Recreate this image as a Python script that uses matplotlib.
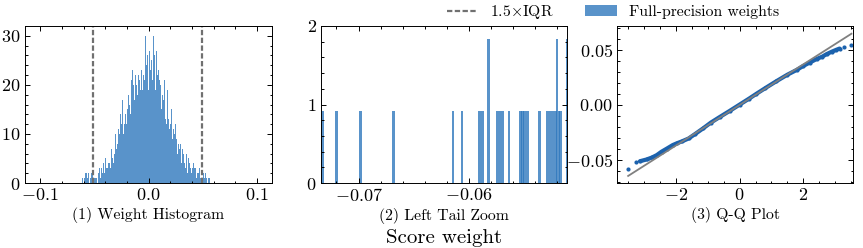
import numpy as np
import matplotlib
matplotlib.use('Agg')
import matplotlib.pyplot as plt
from matplotlib.patches import Patch
from matplotlib.lines import Line2D
from matplotlib.ticker import AutoMinorLocator

plt.rcParams.update({
    'font.family': 'serif',
    'font.serif': ['cmr10'],
    'mathtext.fontset': 'cm',
    'axes.formatter.use_mathtext': True,
    'axes.unicode_minus': True,
    'axes.linewidth': 0.7,
})

# (1) histogram of the weights: bins start at hist_start, each hist_width wide
hist_start = -0.0735
hist_width = 0.0005
hist_counts = [
    1, 0, 0, 1, 0, 0, 0, 1, 0, 0, 0, 0, 0, 1, 0, 0, 0, 0, 0, 0,
    0, 0, 0, 0, 1, 1, 0, 0, 1, 1, 2, 0, 2, 2, 1, 0, 2, 2, 0, 1,
    0, 2, 4, 2,
    1, 0, 2, 1, 0, 1, 1, 2, 0, 1,
    2, 1, 3, 2, 1, 2, 3, 1, 2, 4,
    3, 2, 4, 5, 2, 3, 4, 3, 5, 4,
    4, 6, 3, 5, 7, 4, 5, 6, 4, 7,
    6, 8, 10, 7, 13, 8, 9, 11, 7, 10,
    11, 14, 9, 12, 17, 13, 10, 15, 12, 16,
    14, 17, 12, 20, 15, 13, 18, 16, 19, 14,
    17, 21, 15, 23, 18, 20, 24, 17, 22, 19,
    20, 25, 18, 27, 22, 30, 21, 24, 19, 26,
    23, 19, 26, 22, 29, 21, 25, 30, 20, 24,
    22, 26, 19, 24, 27, 21, 23, 18, 25, 22,
    21, 24, 30, 20, 26, 19, 23, 27, 18, 22,
    19, 23, 16, 21, 17, 20, 15, 22, 18, 16,
    17, 14, 21, 15, 13, 18, 12, 16, 19, 13,
    14, 11, 16, 12, 10, 15, 13, 9, 17, 11,
    10, 8, 12, 7, 9, 11, 6, 10, 8, 9,
    7, 5, 8, 4, 6, 7, 3, 6, 5, 4,
    5, 3, 4, 6, 2, 4, 5, 3, 4, 3,
    3, 5, 2, 4, 3, 2, 4, 3, 2, 3,
    2, 1, 3, 2, 1, 2, 1, 3, 1, 2,
    1, 2, 1, 0, 2, 1, 1, 0, 2, 1,
    1, 0, 1, 1, 0, 1, 0, 0, 1, 0,
    1, 0, 0, 1, 0, 0,
]
iqr_low = -0.0515
iqr_high = 0.0493

# (2) left tail zoom
tail_x = [-0.07325, -0.07198, -0.06984, -0.06684, -0.06144, -0.06062,
          -0.05902, -0.05875, -0.05823, -0.05744, -0.05725, -0.05707,
          -0.05689, -0.05635, -0.05529, -0.05511, -0.05493, -0.05471,
          -0.05362, -0.05284, -0.05265, -0.05247, -0.05229, -0.05211,
          -0.05202, -0.05184, -0.05168, -0.05105]
tail_h = [0.915, 0.915, 0.915, 0.915, 0.915, 0.915,
          0.915, 0.915, 1.83, 0.915, 0.915, 0.915,
          0.915, 0.915, 0.915, 0.915, 0.915, 0.915,
          0.915, 0.915, 0.915, 0.915, 0.915, 0.915,
          1.83, 0.915, 0.915, 1.83]
tail_width = 0.00024

# (3) Q-Q plot
qq_x = [-3.50, -3.26, -3.13, -2.92, -2.75, -2.60, -2.45, -2.29, -2.10, -1.98,
        -1.80, -1.60, -1.40, -1.15, -0.90, -0.625, -0.30, 0.0, 0.30, 0.52,
        0.80, 1.15, 1.50, 1.79, 2.00, 2.20, 2.42, 2.60, 2.73, 2.90,
        3.04, 3.14, 3.28, 3.51]
qq_y = [-0.0582, -0.0521, -0.0512, -0.0496, -0.0478, -0.0456, -0.0425, -0.0398, -0.0365, -0.0350,
        -0.0330, -0.0305, -0.0265, -0.0214, -0.0160, -0.0110, -0.0052, 0.0003, 0.0058, 0.0100,
        0.0152, 0.0215, 0.0275, 0.0318, 0.0355, 0.0385, 0.0418, 0.0440, 0.0462, 0.0485,
        0.0502, 0.0513, 0.0525, 0.0549]
fit_slope = 0.01845
fit_intercept = 0.0

bar_color = '#2f78bd'
bar_alpha = 0.8
pt_color = '#1c62ad'
iqr_color = '#707070'
iqr_style = (0, (2.4, 1.1))

W, H = 863, 248
fig = plt.figure(figsize=(W / 100, H / 100), dpi=100)

def px_axes(l, r, t, b):
    return fig.add_axes([l / W, 1 - b / H, (r - l) / W, (b - t) / H])

ax1 = px_axes(25, 272, 26, 183)
ax2 = px_axes(321, 567, 26, 183)
ax3 = px_axes(617, 853, 26, 183)

edges = hist_start + hist_width * np.arange(len(hist_counts) + 1)
ax1.stairs(hist_counts, edges, fill=True, color=bar_color, alpha=bar_alpha, lw=0)
for q in (iqr_low, iqr_high):
    ax1.axvline(q, color=iqr_color, lw=1.6, ls=iqr_style)
ax1.set_xlim(-0.114, 0.114)
ax1.set_ylim(0, 32)
ax1.set_xticks([-0.1, 0.0, 0.1])
ax1.set_yticks([0, 10, 20, 30])
ax1.set_xlabel('(1) Weight Histogram', fontsize=11.3, labelpad=3)

ax2.bar(tail_x, tail_h, width=tail_width, color=bar_color, alpha=bar_alpha, lw=0)
ax2.set_xlim(-0.0734, -0.0511)
ax2.set_ylim(0, 2)
ax2.set_xticks([-0.07, -0.06])
ax2.set_yticks([0, 1, 2])
ax2.set_xlabel('(2) Left Tail Zoom', fontsize=11.3, labelpad=3)

fx = np.array([min(qq_x), max(qq_x)])
ax3.plot(qq_x[2:-2], qq_y[2:-2], color=pt_color, lw=3.0, solid_capstyle='round')
ax3.plot(qq_x, qq_y, 'o', color=pt_color, ms=3.0, mew=0)
ax3.plot(fx, fit_slope * fx + fit_intercept, color='#808080', lw=1.3)
ax3.set_xlim(-3.85, 3.56)
ax3.set_ylim(-0.071, 0.0718)
ax3.set_xticks([-2, 0, 2])
ax3.set_yticks([-0.05, 0.0, 0.05])
ax3.set_xlabel('(3) Q-Q Plot', fontsize=11.3, labelpad=3)

for ax in (ax1, ax2, ax3):
    ax.xaxis.set_minor_locator(AutoMinorLocator(5))
    ax.yaxis.set_minor_locator(AutoMinorLocator(5))
    ax.tick_params(which='both', direction='in', top=True, right=True,
                   labelsize=13, width=0.7, pad=3)
    ax.tick_params(which='major', length=3.5)
    ax.tick_params(which='minor', length=1.8)
ax3.xaxis.set_minor_locator(AutoMinorLocator(4))

fig.text(444 / W, 1 - 238 / H, 'Score weight', ha='center', va='center', fontsize=15)

handles = [Line2D([], [], color=iqr_color, lw=1.6, ls=iqr_style),
           Patch(facecolor=bar_color, alpha=bar_alpha, lw=0)]
fig.legend(handles, [r'1.5$\times$IQR', 'Full-precision weights'], ncol=2,
           loc='center', bbox_to_anchor=(613 / W, 1 - 12 / H), frameon=False,
           fontsize=11.3, borderpad=0, handlelength=2.0, columnspacing=2.0)

fig.savefig('out.png', dpi=100)
